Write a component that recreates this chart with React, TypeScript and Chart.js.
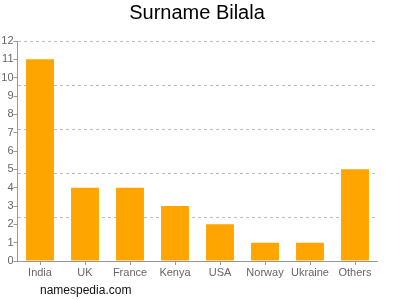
import React, { useEffect, useRef } from "react";
import { Chart, registerables } from "chart.js";

Chart.register(...registerables);

const categories = ["India", "UK", "France", "Kenya", "USA", "Norway", "Ukraine", "Others"];
const counts = [11, 4, 4, 3, 2, 1, 1, 5];
const yMax = 12;
const gridStep = 2.4;
const titleText = "Surname Bilala";
const watermark = "namespedia.com";

const FONT = "'Liberation Sans', Arial, sans-serif";

export default function App() {
  const ref = useRef<HTMLCanvasElement | null>(null);
  useEffect(() => {
    if (!ref.current) return;
    const wmPlugin = {
      id: "wm",
      afterLayout(chart: any) {
        const tb = chart.titleBlock;
        if (tb) {
          tb.left = 0;
          tb.right = 394;
          tb.width = 394;
        }
      },
      afterDraw(chart: any) {
        const ctx = chart.ctx;
        ctx.save();
        ctx.font = `12px ${FONT}`;
        ctx.fillStyle = "#111";
        ctx.textAlign = "left";
        ctx.textBaseline = "middle";
        ctx.fillText(watermark, 40, 291);
        ctx.restore();
      },
    };
    const chart = new Chart(ref.current, {
      type: "bar",
      data: {
        labels: categories,
        datasets: [
          {
            data: counts,
            backgroundColor: "#FFA500",
            borderWidth: 0,
            barPercentage: 0.62,
            categoryPercentage: 1,
          },
        ],
      },
      options: {
        animation: false,
        responsive: false,
        maintainAspectRatio: false,
        layout: { padding: { left: 0, right: 22.5, top: 1, bottom: 0 } },
        plugins: {
          legend: { display: false },
          tooltip: { enabled: false },
          title: {
            display: true,
            text: titleText,
            color: "#000",
            font: { family: FONT, size: 20, weight: "normal" },
            padding: { top: 0, bottom: 16 },
          },
        },
        scales: {
          x: {
            grid: {
              display: true,
              drawOnChartArea: false,
              offset: false,
              tickLength: 4,
              color: "#999",
            },
            border: { display: true, color: "#999" },
            ticks: {
              color: "#666",
              font: { family: FONT, size: 11 },
              padding: 1,
              maxRotation: 0,
              autoSkip: false,
            },
            afterFit: (s: any) => {
              s.height = 39;
            },
          },
          y: {
            position: "left",
            min: 0,
            max: yMax,
            grid: {
              display: true,
              drawOnChartArea: false,
              tickLength: 4,
              color: "#999",
            },
            border: { display: true, color: "#999" },
            ticks: {
              stepSize: 1,
              color: "#666",
              font: { family: FONT, size: 11 },
              padding: 0,
            },
            afterFit: (s: any) => {
              s.width = 17.5;
            },
          },
          yGrid: {
            position: "left",
            min: 0,
            max: yMax,
            grid: {
              display: true,
              drawTicks: false,
              color: (c: any) => (c.tick && c.tick.value === 0 ? "rgba(0,0,0,0)" : "#bbb"),
            },
            border: { display: false, dash: [3, 3] },
            ticks: { display: false, stepSize: gridStep },
            afterBuildTicks: (s: any) => {
              const t = [];
              for (let i = 0; i * gridStep <= yMax + 1e-9; i++) t.push({ value: +(i * gridStep).toFixed(2) });
              s.ticks = t;
            },
            afterFit: (s: any) => {
              s.width = 0;
            },
          },
        },
      },
      plugins: [wmPlugin],
    } as any);
    return () => chart.destroy();
  }, []);
  return (
    <div style={{ position: "absolute", left: 0, top: 0, width: 400, height: 300, background: "#fff" }}>
      <canvas ref={ref} width={400} height={300} style={{ width: 400, height: 300 }} />
    </div>
  );
}
